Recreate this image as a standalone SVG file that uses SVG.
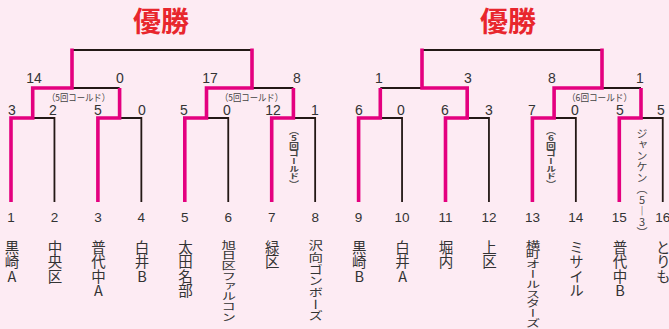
<svg xmlns="http://www.w3.org/2000/svg" width="669" height="329" viewBox="0 0 669 329">
<style>
.bk{fill:none;stroke:#231815;stroke-width:1.8}
.pk{fill:none;stroke:#e4007f;stroke-width:3.6;stroke-linejoin:miter}
.title{font-family:"Noto Sans CJK JP",sans-serif;font-weight:bold;font-size:28px;fill:#e8262d;text-anchor:middle}
.sc{font-family:"Liberation Sans","Noto Sans CJK JP",sans-serif;font-size:14px;fill:#333;text-anchor:middle}
.num{font-family:"Liberation Sans","Noto Sans CJK JP",sans-serif;font-size:13.5px;fill:#333;text-anchor:middle}
.note{font-family:"Noto Sans CJK JP",sans-serif;font-size:9.5px;fill:#444}
.v{writing-mode:vertical-rl;text-orientation:upright;font-family:"Noto Sans CJK JP",sans-serif;fill:#333}
.nm{font-size:14.5px}
.vn{font-size:10px;fill:#444;font-weight:bold}
</style>
<rect width="669" height="329" fill="#fdebf3"/>
<g id="titles">
<text class="title" x="161" y="32">優勝</text>
<text class="title" x="508" y="32">優勝</text>
</g>
<g id="connectors">
<path class="bk" d="M72 50H252M72 88H119.6M32.7 118H54.45V202M119.6 118H141.35V202M252 88H293.4M206.5 118H228.25V202M293.4 118H315.15V202"/>
<path class="bk" d="M422 50H602M380.3 88H422M380.3 118H402.05V202M467.2 118H488.95V202M602 88H641M554.1 118H575.85V202M641 118H662.75V202"/>
<path class="pk" d="M11 202V118H32.7V88H72V48.5"/>
<path class="pk" d="M97.9 202V118H119.6V88"/>
<path class="pk" d="M184.8 202V118H206.5V88H252V48.5"/>
<path class="pk" d="M271.7 202V118H293.4V88"/>
<path class="pk" d="M358.6 202V118H380.3V88"/>
<path class="pk" d="M445.5 202V118H467.2V88H422V48.5"/>
<path class="pk" d="M532.4 202V118H554.1V88H602V48.5"/>
<path class="pk" d="M619.3 202V118H641V88"/>
</g>
<g id="scores">
<text class="sc" x="34" y="83">14</text>
<text class="sc" x="120" y="83">0</text>
<text class="sc" x="210" y="83">17</text>
<text class="sc" x="297" y="83">8</text>
<text class="sc" x="379" y="83">1</text>
<text class="sc" x="468" y="83">3</text>
<text class="sc" x="552" y="83">8</text>
<text class="sc" x="640" y="83">1</text>
<text class="sc" x="12" y="115">3</text>
<text class="sc" x="53" y="115">2</text>
<text class="sc" x="98" y="115">5</text>
<text class="sc" x="142" y="115">0</text>
<text class="sc" x="184" y="115">5</text>
<text class="sc" x="227" y="115">0</text>
<text class="sc" x="273" y="115">12</text>
<text class="sc" x="315" y="115">1</text>
<text class="sc" x="359" y="115">6</text>
<text class="sc" x="401" y="115">0</text>
<text class="sc" x="445" y="115">6</text>
<text class="sc" x="489" y="115">3</text>
<text class="sc" x="532" y="115">7</text>
<text class="sc" x="575" y="115">0</text>
<text class="sc" x="620" y="115">5</text>
<text class="sc" x="661" y="115">5</text>
</g>
<g id="notes">
<text class="note" x="47" y="101" textLength="63" lengthAdjust="spacingAndGlyphs">（5回コールド）</text>
<text class="note" x="220" y="101" textLength="63" lengthAdjust="spacingAndGlyphs">（5回コールド）</text>
<text class="note" x="567" y="101" textLength="65" lengthAdjust="spacingAndGlyphs">（6回コールド）</text>
<text class="v vn" transform="translate(294,127) scale(1,0.76)" x="0" y="0">（5回コールド）</text>
<text class="v vn" transform="translate(551,127) scale(1,0.76)" x="0" y="0">（6回コールド）</text>
<text class="v vn" style="font-size:11px;font-weight:normal" x="642" y="128">ジャンケン（5―3）</text>
</g>
<g id="team1"><text class="num" x="11" y="222">1</text><text class="v nm" x="12" y="240">黒崎A</text></g>
<g id="team2"><text class="num" x="54.45" y="222">2</text><text class="v nm" x="55" y="240">中央区</text></g>
<g id="team3"><text class="num" x="97.9" y="222">3</text><text class="v nm" x="98.5" y="240">普代中A</text></g>
<g id="team4"><text class="num" x="141.35" y="222">4</text><text class="v nm" x="142" y="240">白井B</text></g>
<g id="team5"><text class="num" x="184.8" y="222">5</text><text class="v nm" x="185.4" y="240">太田名部</text></g>
<g id="team6"><text class="num" x="228.25" y="222">6</text><text class="v nm" transform="translate(228.8,240) scale(1,0.705)" x="0" y="0">旭日区ファルコン</text></g>
<g id="team7"><text class="num" x="271.7" y="222">7</text><text class="v nm" x="272.3" y="240">緑区</text></g>
<g id="team8"><text class="num" x="315.15" y="222">8</text><text class="v nm" transform="translate(315.7,240) scale(1,0.805)" x="0" y="0">沢向ゴンボーズ</text></g>
<g id="team9"><text class="num" x="358.6" y="222">9</text><text class="v nm" x="359.2" y="240">黒崎B</text></g>
<g id="team10"><text class="num" x="402.05" y="222">10</text><text class="v nm" x="402.6" y="240">白井A</text></g>
<g id="team11"><text class="num" x="445.5" y="222">11</text><text class="v nm" x="446.1" y="240">堀内</text></g>
<g id="team12"><text class="num" x="488.95" y="222">12</text><text class="v nm" x="489.5" y="240">上区</text></g>
<g id="team13"><text class="num" x="532.4" y="222">13</text><text class="v nm" transform="translate(533,240) scale(1,0.675)" x="0" y="0">横町オールスターズ</text></g>
<g id="team14"><text class="num" x="575.85" y="222">14</text><text class="v nm" x="576.4" y="240">ミサイル</text></g>
<g id="team15"><text class="num" x="619.3" y="222">15</text><text class="v nm" x="619.9" y="240">普代中B</text></g>
<g id="team16"><text class="num" x="662.75" y="222">16</text><text class="v nm" x="663.3" y="240">とりも</text></g>
</svg>
